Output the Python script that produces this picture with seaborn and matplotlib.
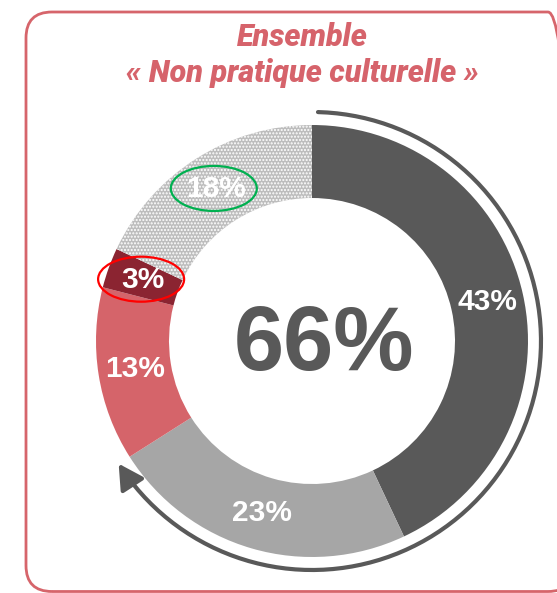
import numpy as np
import matplotlib
matplotlib.use("Agg")
import matplotlib.pyplot as plt
import seaborn as sns
from matplotlib.patches import FancyBboxPatch, FancyArrowPatch, Ellipse
from matplotlib.path import Path

# Shares of the "non-practice" population, clockwise from 12 o'clock
categories = ["A", "B", "C", "D", "E"]
shares = [43, 23, 13, 3, 18]
labels = ["43%", "23%", "13%", "3%", "18%"]
colors = ["#595959", "#A6A6A6", "#D5646A", "#8B2431", "#C4C4C4"]
title_lines = ["Ensemble", "« Non pratique culturelle »"]
highlight = {"18%": "#00B050", "3%": "#FF0000"}

sns.set_theme(style="white")
plt.rcParams["font.family"] = ["Liberation Sans", "DejaVu Sans"]

W, H = 557, 593
fig = plt.figure(figsize=(W / 100, H / 100), dpi=100)
ax = fig.add_axes([0, 0, 1, 1])

cx, cy = 312, 252
r_out, ring = 216, 73

wedges, _ = ax.pie(shares, colors=colors, startangle=90, counterclock=False,
                   radius=r_out, center=(cx, cy),
                   wedgeprops=dict(width=ring, linewidth=0))
# dotted texture on the last slice
wedges[4].set_facecolor("#BDBDBD")
wedges[4].set_edgecolor("white")
wedges[4].set_hatch(".....")
wedges[4].set_linewidth(0)

ax.set_xlim(0, W)
ax.set_ylim(0, H)
ax.set_aspect("equal")
ax.axis("off")

# slice labels at mid-ring
cum = np.cumsum([0] + shares)
r_mid = r_out - ring / 2
label_pos = {}
for i, lab in enumerate(labels):
    t = np.deg2rad((cum[i] + shares[i] / 2) / 100 * 360)
    x, y = cx + r_mid * np.sin(t), cy + r_mid * np.cos(t)
    label_pos[lab] = (x, y)
    ax.text(x, y, lab, ha="center", va="center", fontsize=21.5,
            fontweight="bold", color="white", zorder=5)

# highlight ellipses around selected labels
for lab, col in highlight.items():
    x, y = label_pos[lab]
    ax.add_patch(Ellipse((x - 2, y + 1), 86, 45, fill=False, edgecolor=col,
                         linewidth=1.6, zorder=6))

# total of the two leading slices
total = shares[0] + shares[1]
ax.text(cx + 12, 223, f"{total}%", ha="center", va="baseline", fontsize=65,
        fontweight="bold", color="#595959")

# arc arrow spanning the two leading slices
R = 229
t = np.deg2rad(np.linspace(1.5, total / 100 * 360, 200))
pts = np.column_stack([cx + R * np.sin(t), cy + R * np.cos(t)])
codes = [Path.MOVETO] + [Path.LINETO] * (len(pts) - 1)
arrow = FancyArrowPatch(path=Path(pts, codes),
                        arrowstyle="-|>,head_length=1.0,head_width=0.55",
                        mutation_scale=15, color="#595959", linewidth=3.0,
                        shrinkA=0, shrinkB=0, zorder=4)
ax.add_patch(arrow)

# title
title_color = "#D6636B"
ax.text(302, 547, title_lines[0], ha="center", va="baseline", fontsize=22,
        fontweight="heavy", fontstyle="italic", color=title_color,
        family=["Roboto", "DejaVu Sans"])
ax.text(303, 511, title_lines[1], ha="center", va="baseline", fontsize=22,
        fontweight="heavy", fontstyle="italic", color=title_color,
        family=["Roboto", "DejaVu Sans"])

# rounded frame
frame = FancyBboxPatch((26, 1.5), 548, 579.5,
                       boxstyle="round,pad=0,rounding_size=26",
                       fill=False, edgecolor="#D6656B", linewidth=2.0, zorder=1)
ax.add_patch(frame)

fig.savefig("out.png", dpi=100)
